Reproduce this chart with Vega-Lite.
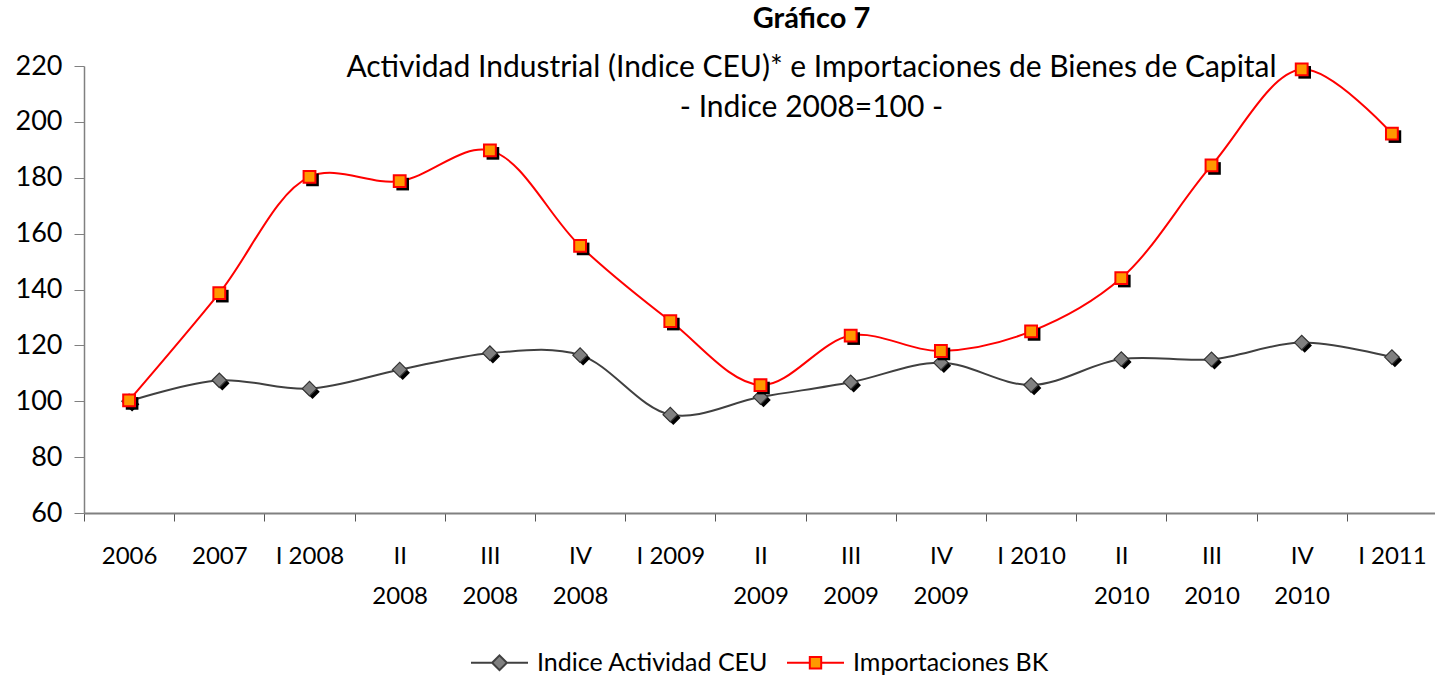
{
  "$schema": "https://vega.github.io/schema/vega-lite/v6.json",
  "width": 1353,
  "height": 447,
  "padding": {"left": 15, "right": 0, "top": 5, "bottom": 5},
  "config": {"font": "Lato", "view": {"stroke": null}},
  "title": {
    "text": "Gráfico 7",
    "subtitle": ["Actividad Industrial (Indice CEU)* e Importaciones de Bienes de Capital", "- Indice 2008=100 -"],
    "font": "Lato",
    "fontSize": 29,
    "fontWeight": "bold",
    "color": "black",
    "subtitleFont": "Lato",
    "subtitleFontSize": 30,
    "subtitleColor": "black",
    "subtitleLineHeight": 40,
    "subtitlePadding": 19,
    "anchor": "middle",
    "dx": 51,
    "offset": -71
  },
  "data": {
    "values": [
      {"period": "2006", "series": "Indice Actividad CEU", "value": 100},
      {"period": "2007", "series": "Indice Actividad CEU", "value": 107.5},
      {"period": "I 2008", "series": "Indice Actividad CEU", "value": 104.5},
      {"period": "II 2008", "series": "Indice Actividad CEU", "value": 111.3},
      {"period": "III 2008", "series": "Indice Actividad CEU", "value": 117.2},
      {"period": "IV 2008", "series": "Indice Actividad CEU", "value": 116.5},
      {"period": "I 2009", "series": "Indice Actividad CEU", "value": 95.2},
      {"period": "II 2009", "series": "Indice Actividad CEU", "value": 101.5},
      {"period": "III 2009", "series": "Indice Actividad CEU", "value": 106.8},
      {"period": "IV 2009", "series": "Indice Actividad CEU", "value": 113.8},
      {"period": "I 2010", "series": "Indice Actividad CEU", "value": 105.8},
      {"period": "II 2010", "series": "Indice Actividad CEU", "value": 115.1},
      {"period": "III 2010", "series": "Indice Actividad CEU", "value": 115},
      {"period": "IV 2010", "series": "Indice Actividad CEU", "value": 121},
      {"period": "I 2011", "series": "Indice Actividad CEU", "value": 115.8},
      {"period": "2006", "series": "Importaciones BK", "value": 100.3},
      {"period": "2007", "series": "Importaciones BK", "value": 138.7},
      {"period": "I 2008", "series": "Importaciones BK", "value": 180.3},
      {"period": "II 2008", "series": "Importaciones BK", "value": 178.8},
      {"period": "III 2008", "series": "Importaciones BK", "value": 189.8},
      {"period": "IV 2008", "series": "Importaciones BK", "value": 155.6},
      {"period": "I 2009", "series": "Importaciones BK", "value": 128.7},
      {"period": "II 2009", "series": "Importaciones BK", "value": 105.8},
      {"period": "III 2009", "series": "Importaciones BK", "value": 123.5},
      {"period": "IV 2009", "series": "Importaciones BK", "value": 118},
      {"period": "I 2010", "series": "Importaciones BK", "value": 125},
      {"period": "II 2010", "series": "Importaciones BK", "value": 144.1},
      {"period": "III 2010", "series": "Importaciones BK", "value": 184.4},
      {"period": "IV 2010", "series": "Importaciones BK", "value": 218.8},
      {"period": "I 2011", "series": "Importaciones BK", "value": 195.8}
    ]
  },
  "encoding": {
    "x": {
      "field": "period",
      "type": "ordinal",
      "sort": null,
      "scale": {"type": "band", "paddingInner": 0, "paddingOuter": 0},
      "axis": {
        "title": null,
        "labelAngle": 0,
        "labelFont": "Lato",
        "labelFontSize": 24,
        "labelColor": "black",
        "labelBaseline": "top",
        "labelLineHeight": 40,
        "labelPadding": 23,
        "labelExpr": "isString(datum.value) && length(datum.value) > 6 ? split(datum.value, ' ') : datum.label",
        "tickBand": "extent",
        "tickSize": 8,
        "tickColor": "#555555",
        "domainColor": "#808080",
        "domainWidth": 2,
        "grid": false
      }
    },
    "y": {
      "field": "value",
      "type": "quantitative",
      "scale": {"domain": [60, 220], "nice": false, "zero": false},
      "axis": {
        "title": null,
        "values": [60, 80, 100, 120, 140, 160, 180, 200, 220],
        "labelFont": "Lato",
        "labelFontSize": 27,
        "labelColor": "black",
        "labelPadding": 12,
        "tickSize": 10,
        "tickColor": "#808080",
        "domainColor": "#808080",
        "domainWidth": 1.5,
        "grid": false
      }
    }
  },
  "layer": [
    {
      "transform": [{"filter": "datum.series == 'Indice Actividad CEU'"}],
      "mark": {"type": "line", "interpolate": "catmull-rom", "color": "#404040", "strokeWidth": 2}
    },
    {
      "transform": [{"filter": "datum.series == 'Importaciones BK'"}],
      "mark": {"type": "line", "interpolate": "catmull-rom", "color": "#FF0000", "strokeWidth": 2}
    },
    {
      "transform": [{"filter": "datum.series == 'Indice Actividad CEU'"}],
      "mark": {"type": "point", "shape": "diamond", "filled": true, "color": "black", "opacity": 1, "size": 210, "xOffset": 3, "yOffset": 3}
    },
    {
      "transform": [{"filter": "datum.series == 'Indice Actividad CEU'"}],
      "mark": {"type": "point", "shape": "diamond", "filled": true, "fill": "#808080", "stroke": "#333333", "strokeWidth": 1.2, "opacity": 1, "size": 210}
    },
    {
      "transform": [{"filter": "datum.series == 'Importaciones BK'"}],
      "mark": {"type": "point", "shape": "square", "filled": true, "color": "black", "opacity": 1, "size": 160, "xOffset": 3, "yOffset": 3}
    },
    {
      "transform": [{"filter": "datum.series == 'Importaciones BK'"}],
      "mark": {"type": "point", "shape": "square", "filled": true, "fill": "#FF9900", "stroke": "#FF0000", "strokeWidth": 2, "opacity": 1, "size": 140}
    },
    {
      "transform": [{"filter": "datum.value < 0"}],
      "mark": {"type": "point", "filled": true, "opacity": 1, "strokeWidth": 2},
      "encoding": {
        "shape": {
          "field": "series",
          "type": "nominal",
          "scale": {
            "domain": ["Indice Actividad CEU", "Importaciones BK"],
            "range": [
              "M-1,0L-0.26,0M0.26,0L1,0M0,-0.26L0.26,0L0,0.26L-0.26,0Z",
              "M-1,0L-0.2,0M0.2,0L1,0M-0.2,-0.2L0.2,-0.2L0.2,0.2L-0.2,0.2Z"
            ]
          },
          "legend": {
            "title": null,
            "orient": "none",
            "legendX": 386,
            "legendY": 567,
            "direction": "horizontal",
            "symbolSize": 3249,
            "symbolStrokeWidth": 2,
            "symbolOpacity": 1,
            "labelFont": "Lato",
            "labelFontSize": 25,
            "labelColor": "black",
            "labelLimit": 500,
            "labelOffset": 8,
            "columnPadding": 14
          }
        },
        "fill": {
          "field": "series",
          "type": "nominal",
          "scale": {"domain": ["Indice Actividad CEU", "Importaciones BK"], "range": ["#808080", "#FF9900"]}
        },
        "stroke": {
          "field": "series",
          "type": "nominal",
          "scale": {"domain": ["Indice Actividad CEU", "Importaciones BK"], "range": ["#404040", "#FF0000"]}
        }
      }
    }
  ]
}
